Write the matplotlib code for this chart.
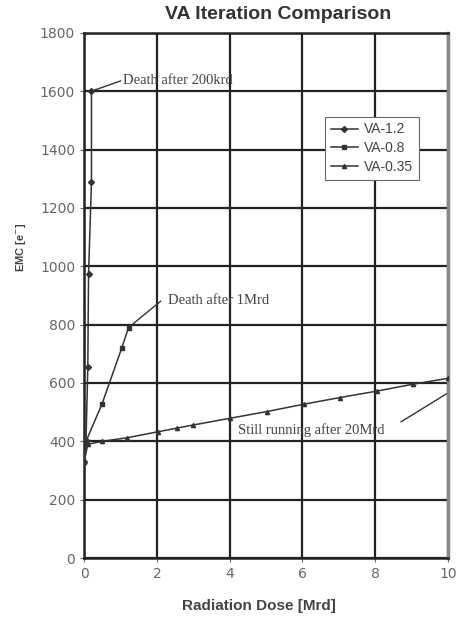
import matplotlib
matplotlib.use("Agg")
import matplotlib.pyplot as plt

# Data
va12_x = [0.0, 0.05, 0.1, 0.12, 0.2, 0.2]
va12_y = [330, 400, 656, 973, 1289, 1600]
va08_x = [0.0, 0.05, 0.49, 1.03, 1.22]
va08_y = [330, 400, 528, 719, 790]
va035_x = [0.0, 0.1, 0.5, 1.17, 2.04, 2.54, 3.0, 4.01, 5.02, 6.03, 7.03, 8.04, 9.05, 10.0]
va035_y = [330, 390, 400, 412, 433, 445, 456, 479, 502, 527, 550, 572, 596, 616]
series_names = ["VA-1.2", "VA-0.8", "VA-0.35"]
x_ticks = [0, 2, 4, 6, 8, 10]
y_ticks = list(range(0, 1801, 200))

fig = plt.figure(figsize=(4.6, 6.19), dpi=100)
ax = fig.add_axes([0.183, 0.0985, 0.791, 0.8485])

lc = "#333333"
ax.plot(va12_x, va12_y, color=lc, lw=1.1, marker="D", ms=3, label=series_names[0], zorder=3)
ax.plot(va08_x, va08_y, color=lc, lw=1.1, marker="s", ms=3.5, label=series_names[1], zorder=3)
ax.plot(va035_x, va035_y, color=lc, lw=1.1, marker="^", ms=3, label=series_names[2], zorder=3)

ax.set_xlim(0, 10)
ax.set_ylim(0, 1800)
ax.set_xticks(x_ticks)
ax.set_yticks(y_ticks)
ax.grid(True, color="#222222", lw=1.6)
ax.set_axisbelow(True)
for s in ax.spines.values():
    s.set_color("#222222")
    s.set_linewidth(1.8)
ax.spines["right"].set_color("#888888")
ax.spines["right"].set_linewidth(2.5)
ax.tick_params(labelsize=10, colors="#666666", length=3)

fig.text(0.604, 0.976, "VA Iteration Comparison", fontsize=14, fontweight="bold",
         color="#333333", ha="center", va="center", family="Liberation Sans")
ax.set_xlabel("Radiation Dose [Mrd]", fontsize=11, fontweight="bold", color="#444444",
              family="Liberation Sans")
ax.xaxis.set_label_coords(0.48, -0.078)
ax.set_ylabel("EMC [e$^{-}$]", fontsize=8, fontweight="bold", color="#444444",
              family="Liberation Sans")
ax.yaxis.set_label_coords(-0.155, 0.592)

serif = "Liberation Serif"
ac = "#444444"
ax.plot([0.2, 1.0], [1600, 1635], color=lc, lw=1.0)
ax.text(1.07, 1635, "Death after 200krd", fontsize=10.5, family=serif, color=ac, va="center")
ax.plot([1.22, 2.1], [790, 880], color=lc, lw=1.0)
ax.text(2.3, 882, "Death after 1Mrd", fontsize=10.5, family=serif, color=ac, va="center")
ax.plot([8.71, 10.0], [467, 566], color=lc, lw=1.0)
ax.text(4.23, 437, "Still running after 20Mrd", fontsize=10.5, family=serif, color=ac, va="center")

leg = ax.legend(loc="upper left", bbox_to_anchor=(0.662, 0.84), frameon=True,
                fancybox=False, edgecolor="#666666", framealpha=1, handlelength=2.0,
                borderpad=0.4, labelspacing=0.35, handletextpad=0.4, borderaxespad=0,
                prop={"family": "Liberation Sans", "size": 10})
leg.get_frame().set_linewidth(0.8)
for t in leg.get_texts():
    t.set_color("#444444")

fig.savefig("out.png", dpi=100)
